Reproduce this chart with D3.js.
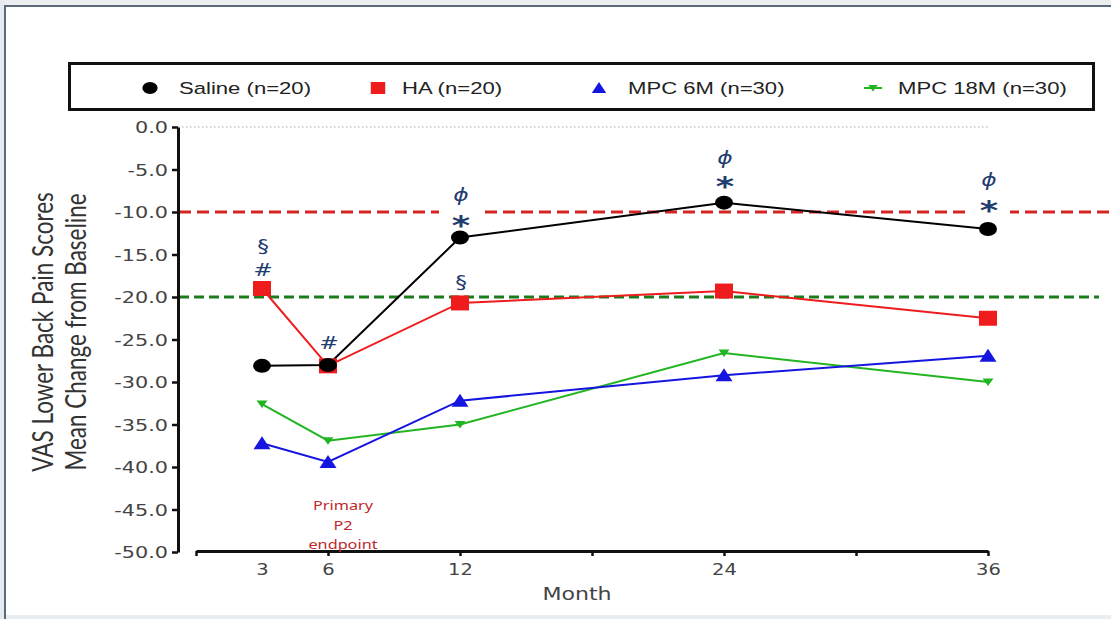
<!DOCTYPE html>
<html><head><meta charset="utf-8">
<script src="https://cdn.jsdelivr.net/npm/d3@7"></script>
<style>html,body{margin:0;padding:0;background:#fff;overflow:hidden}</style>
</head><body>
<svg id="chart" width="1111" height="619"></svg>
<script>
// ---- data ----
const months = [3, 6, 12, 24, 36];
const salineValues = [-28.1, -28.0, -13.0, -8.9, -12.0];
const haValues = [-19.0, -28.1, -20.7, -19.3, -22.5];
const mpc6Values = [-37.2, -39.4, -32.2, -29.2, -26.9];
const mpc18Values = [-32.6, -36.9, -35.0, -26.6, -30.0];
const seriesNames = ["Saline (n=20)", "HA (n=20)", "MPC 6M (n=30)", "MPC 18M (n=30)"];
const yTicks = [0, -5, -10, -15, -20, -25, -30, -35, -40, -45, -50];
const xTickMarks = [0, 6, 12, 18, 24, 30, 36];
const xTickLabels = [3, 6, 12, 24, 36];
const thresholds = [-10, -20];
const annotations = [
  {m: 3, s: "§", v: -13.9}, {m: 3, s: "#", v: -16.8},
  {m: 6, s: "#", v: -25.4},
  {m: 12, s: "ϕ", v: -8.0}, {m: 12, s: "*", v: -11.2}, {m: 12, s: "§", v: -18.2},
  {m: 24, s: "ϕ", v: -3.6}, {m: 24, s: "*", v: -6.6},
  {m: 36, s: "ϕ", v: -6.2}, {m: 36, s: "*", v: -9.4}
];

// ---- setup ----
const svg = d3.select("#chart");
const SX = 1.3; // horizontal stretch of the original picture
svg.append("rect").attr("width", 1111).attr("height", 619).attr("fill", "#fff");
// frame
svg.append("rect").attr("x", 0).attr("y", 0).attr("width", 1111).attr("height", 5).attr("fill", "#eceeef");
svg.append("rect").attr("x", 0).attr("y", 0).attr("width", 4).attr("height", 619).attr("fill", "#e3eaf0");
svg.append("rect").attr("x", 4).attr("y", 5).attr("width", 1107).attr("height", 2).attr("fill", "#5b6a78");
svg.append("rect").attr("x", 4).attr("y", 5).attr("width", 2).attr("height", 614).attr("fill", "#5b6a78");
svg.append("rect").attr("x", 6).attr("y", 615).attr("width", 1105).attr("height", 4).attr("fill", "#e6eef4");

const x = d3.scaleLinear().domain([0, 36]).range([196, 988]);
const y = d3.scaleLinear().domain([-50, 0]).range([552, 127]);

function stretchText(sel, px, py, txt) {
  return sel.append("text").attr("transform", `translate(${px},${py}) scale(${SX},1)`).text(txt);
}

// dotted zero line
svg.append("line").attr("x1", 178).attr("x2", x(36)).attr("y1", y(0)).attr("y2", y(0))
  .attr("stroke", "#aaa").attr("stroke-width", 1).attr("stroke-dasharray", "1.5,2.5");

// threshold dashed lines
const thrColors = ["#d42424", "#1d7a1d"];
const thrEnds = [1111, 1099];
thresholds.forEach((t, i) => {
  svg.append("line").attr("x1", 179).attr("x2", thrEnds[i]).attr("y1", y(t)).attr("y2", y(t))
    .attr("stroke", thrColors[i]).attr("stroke-width", 3)
    .attr("stroke-dasharray", i === 0 ? "12,6" : "10,5");
});

// white boxes behind annotations at 12 and 36
[12, 36].forEach(m => {
  svg.append("rect").attr("x", x(m) - 21).attr("y", y(-8.2)).attr("width", 43).attr("height", 20).attr("fill", "#fff");
});

// y axis
const yAxis = svg.append("g").attr("transform", "translate(178,0)")
  .call(d3.axisLeft(y).tickValues(yTicks).tickFormat(d => d.toFixed(1)).tickSize(6).tickSizeOuter(0));
yAxis.select(".domain").attr("stroke", "#111").attr("stroke-width", 3);
yAxis.selectAll(".tick line").attr("stroke", "#111").attr("stroke-width", 2.5);
yAxis.selectAll(".tick text").each(function() {
  const t = d3.select(this);
  t.attr("x", null).attr("dy", null).attr("transform", `translate(-10,0) scale(${SX},1)`)
    .attr("dy", "0.36em");
}).attr("font-family", "DejaVu Sans").attr("font-size", 16).attr("fill", "#444").attr("text-anchor", "end");

// x axis
const xAxis = svg.append("g").attr("transform", "translate(0,551)")
  .call(d3.axisBottom(x).tickValues(xTickMarks).tickFormat("").tickSize(5).tickSizeOuter(0));
xAxis.select(".domain").attr("stroke", "#111").attr("stroke-width", 3);
xAxis.selectAll(".tick line").attr("stroke", "#111").attr("stroke-width", 2.5);
const xLab = svg.append("g").attr("transform", "translate(0,551)")
  .call(d3.axisBottom(x).tickValues(xTickLabels).tickFormat(d => String(d)).tickSize(0));
xLab.select(".domain").remove();
xLab.selectAll(".tick text").attr("y", null).attr("dy", null)
  .attr("transform", `translate(0,24) scale(${SX},1)`)
  .attr("font-family", "DejaVu Sans").attr("font-size", 15).attr("fill", "#444");

stretchText(svg, 577, 600, "Month").attr("font-family", "DejaVu Sans").attr("font-size", 17)
  .attr("fill", "#444").attr("text-anchor", "middle");

// y title
[["VAS Lower Back Pain Scores", 53], ["Mean Change from Baseline", 86]].forEach(([t, px]) => {
  svg.append("text").attr("transform", `translate(${px},332) scale(${SX},1) rotate(-90)`)
    .attr("text-anchor", "middle").attr("font-family", "Lato").attr("font-size", 22.5)
    .attr("fill", "#333").text(t);
});

// Primary endpoint note
["Primary", "P2", "endpoint"].forEach((t, i) => {
  stretchText(svg, 343, 510 + i * 19.5, t).attr("font-family", "Noto Sans").attr("font-size", 12.5)
    .attr("fill", "#c0282a").attr("text-anchor", "middle");
});

// series
const series = [
  {vals: mpc18Values, color: "#22b522", shape: "tridown"},
  {vals: mpc6Values, color: "#1515e0", shape: "triup"},
  {vals: haValues, color: "#ee1c1c", shape: "square"},
  {vals: salineValues, color: "#000", shape: "circle"}
];
function marker(g, shape, cx, cy, color, scale) {
  const k = scale || 1;
  if (shape === "circle") {
    g.append("ellipse").attr("cx", cx).attr("cy", cy).attr("rx", 9 * k).attr("ry", 7 * k).attr("fill", color);
  } else if (shape === "square") {
    g.append("rect").attr("x", cx - 9 * k).attr("y", cy - 7.5 * k).attr("width", 18 * k).attr("height", 15 * k).attr("fill", color);
  } else if (shape === "triup") {
    g.append("path").attr("d", `M${cx - 8.5 * k},${cy + 6 * k}L${cx + 8.5 * k},${cy + 6 * k}L${cx},${cy - 7 * k}Z`).attr("fill", color);
  } else {
    g.append("path").attr("d", `M${cx - 5.5 * k},${cy - 3.5 * k}L${cx + 5.5 * k},${cy - 3.5 * k}L${cx},${cy + 4 * k}Z`).attr("fill", color);
  }
}
const line = d3.line().x(d => x(d[0])).y(d => y(d[1]));
series.forEach(s => {
  const pts = months.map((m, i) => [m, s.vals[i]]);
  svg.append("path").datum(pts).attr("d", line).attr("fill", "none")
    .attr("stroke", s.color).attr("stroke-width", 2);
});
series.forEach(s => {
  const g = svg.append("g");
  months.forEach((m, i) => marker(g, s.shape, x(m), y(s.vals[i]), s.color));
});

// annotations
annotations.forEach(a => {
  const isStar = a.s === "*";
  stretchText(svg, x(a.m) + 1, y(a.v), a.s)
    .attr("text-anchor", "middle").attr("fill", "#1f3d6e")
    .attr("font-family", "DejaVu Sans")
    .attr("font-size", isStar ? 27 : 18)
    .attr("font-weight", isStar ? "bold" : "normal")
    .attr("font-style", a.s === "ϕ" ? "italic" : "normal")
    .attr("dy", isStar ? "0.47em" : "0.36em");
});

// legend
svg.append("rect").attr("x", 69.5).attr("y", 63.5).attr("width", 1024).attr("height", 46)
  .attr("fill", "#fff").attr("stroke", "#111").attr("stroke-width", 3);
const legX = [150, 378, 599, 873];
const legTX = [179, 402, 628, 898];
const legShapes = ["circle", "square", "triup", "tridown"];
const legColors = ["#000", "#ee1c1c", "#1515e0", "#22b522"];
const lg = svg.append("g");
seriesNames.forEach((n, i) => {
  if (i === 3) lg.append("line").attr("x1", legX[i] - 9).attr("x2", legX[i] + 9).attr("y1", 88).attr("y2", 88)
    .attr("stroke", legColors[i]).attr("stroke-width", 2);
  marker(lg, legShapes[i], legX[i], 88, legColors[i], i === 0 ? 0.85 : (i === 1 ? 0.8 : 0.85));
  stretchText(lg, legTX[i], 94, n).attr("font-family", "Liberation Sans").attr("font-size", 17).attr("fill", "#222");
});
</script>
</body></html>
